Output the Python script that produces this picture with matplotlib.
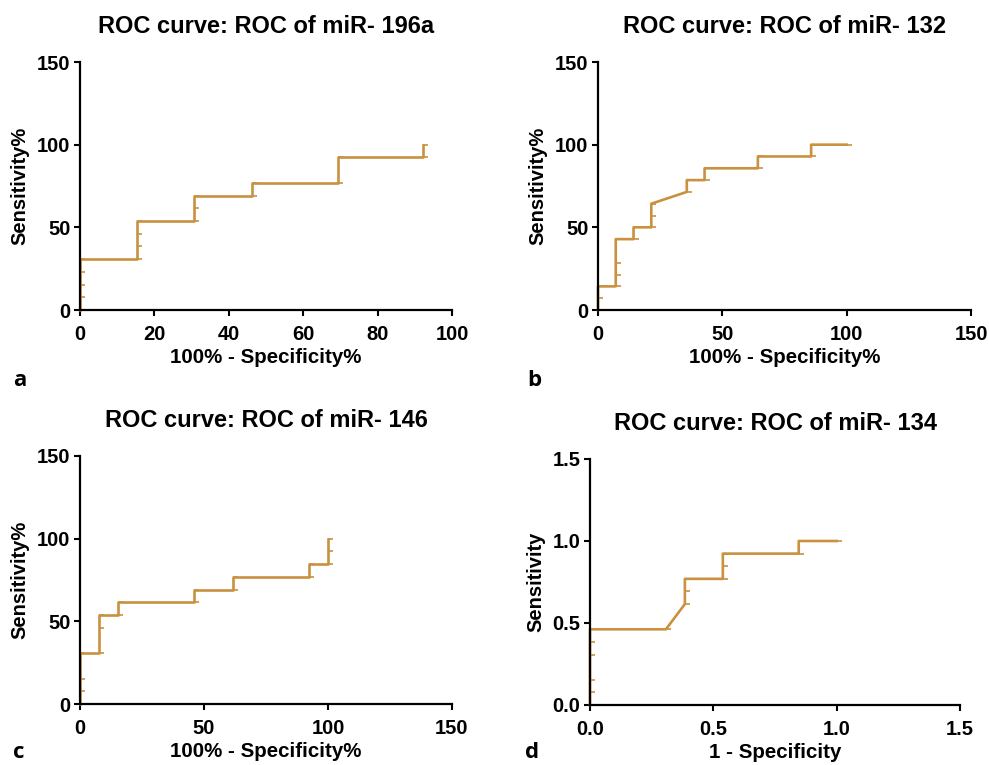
import matplotlib
matplotlib.use("Agg")
from matplotlib import pyplot as plt
from matplotlib.path import Path

plt.rcParams['font.family'] = ['Liberation Sans', 'DejaVu Sans']
plt.rcParams['font.weight'] = 'bold'

# panel a: miR-196a (percent)
a_fpr = [0, 0, 0, 0, 0, 15.38, 15.38, 15.38, 15.38, 30.77, 30.77, 30.77,
         46.15, 46.15, 69.23, 69.23, 92.31, 92.31]
a_tpr = [0, 7.69, 15.38, 23.08, 30.77, 30.77, 38.46, 46.15, 53.85, 53.85, 61.54, 69.23,
         69.23, 76.92, 76.92, 92.31, 92.31, 100]

# panel b: miR-132 (percent)
b_fpr = [0, 0, 0, 7.14, 7.14, 7.14, 7.14, 14.29, 14.29, 21.43, 21.43, 21.43,
         35.71, 35.71, 42.86, 42.86, 64.29, 64.29, 85.71, 85.71, 100]
b_tpr = [0, 7.14, 14.29, 14.29, 21.43, 28.57, 42.86, 42.86, 50, 50, 57.14, 64.29,
         71.43, 78.57, 78.57, 85.71, 85.71, 92.86, 92.86, 100, 100]

# panel c: miR-146 (percent)
c_fpr = [0, 0, 0, 0, 7.69, 7.69, 7.69, 15.38, 15.38, 46.15, 46.15, 61.54, 61.54,
         92.31, 92.31, 100, 100, 100]
c_tpr = [0, 7.69, 15.38, 30.77, 30.77, 46.15, 53.85, 53.85, 61.54, 61.54, 69.23, 69.23, 76.92,
         76.92, 84.62, 84.62, 92.31, 100]

# panel d: miR-134 (fraction)
d_fpr = [0, 0, 0, 0, 0, 0, 0.3077, 0.3846, 0.3846, 0.3846, 0.5385, 0.5385, 0.5385,
         0.8462, 0.8462, 1.0]
d_tpr = [0, 0.0769, 0.1538, 0.3077, 0.3846, 0.4615, 0.4615, 0.6154, 0.6923, 0.7692,
         0.7692, 0.8462, 0.9231, 0.9231, 1.0, 1.0]

titles = ["ROC curve: ROC of miR- 196a", "ROC curve: ROC of miR- 132",
          "ROC curve: ROC of miR- 146", "ROC curve: ROC of miR- 134"]
xlabels = ["100% - Specificity%", "100% - Specificity%", "100% - Specificity%", "1 - Specificity"]
ylabels = ["Sensitivity%", "Sensitivity%", "Sensitivity%", "Sensitivity"]
panel_letters = ["a", "b", "c", "d"]

col = '#C99140'
half_dash = Path([(0, 0), (1, 0)])

W, H = 989, 765
fig = plt.figure(figsize=(W / 100, H / 100), dpi=100)

# axes boxes in pixels: left, top, right, bottom
boxes = [(80, 62, 452, 310), (598, 62, 971, 310),
         (80, 456, 452, 704), (590, 459, 960, 705)]
data = [(a_fpr, a_tpr), (b_fpr, b_tpr), (c_fpr, c_tpr), (d_fpr, d_tpr)]
xticks = [[0, 20, 40, 60, 80, 100], [0, 50, 100, 150], [0, 50, 100, 150], [0, 0.5, 1.0, 1.5]]
yticks = [[0, 50, 100, 150]] * 3 + [[0, 0.5, 1.0, 1.5]]
letter_pos = [(13, 380), (527, 380), (13, 752), (525, 752)]

for i in range(4):
    l, t, r, b = boxes[i]
    ax = fig.add_axes([l / W, 1 - b / H, (r - l) / W, (b - t) / H])
    x, y = data[i]
    ax.plot(x, y, color=col, lw=1.9, marker=half_dash, ms=7, mec=col, mfc='none',
            mew=1.2, clip_on=False, zorder=2)
    ax.set_xlim(xticks[i][0], xticks[i][-1])
    ax.set_ylim(yticks[i][0], yticks[i][-1])
    ax.set_xticks(xticks[i])
    ax.set_yticks(yticks[i])
    if i == 3:
        ax.set_xticklabels(["0.0", "0.5", "1.0", "1.5"])
        ax.set_yticklabels(["0.0", "0.5", "1.0", "1.5"])
    for s in ['top', 'right']:
        ax.spines[s].set_visible(False)
    for s in ['left', 'bottom']:
        ax.spines[s].set_linewidth(1.6)
        ax.spines[s].set_zorder(3)
    ax.tick_params(axis='both', direction='out', length=4, width=1.5, labelsize=14.5)
    ax.tick_params(axis='x', pad=7)
    ax.tick_params(axis='y', pad=3)
    ax.set_title(titles[i], fontsize=17, fontweight='bold', pad=21)
    ax.set_xlabel(xlabels[i], fontsize=14.8, fontweight='bold', labelpad=3)
    ax.set_ylabel(ylabels[i], fontsize=14.5, fontweight='bold', labelpad=5)
    lx, ly = letter_pos[i]
    fig.text(lx / W, 1 - ly / H, panel_letters[i], fontsize=16, fontweight='bold',
             ha='left', va='center', family=['Open Sans', 'DejaVu Sans'])

fig.savefig("out.png", dpi=100)
